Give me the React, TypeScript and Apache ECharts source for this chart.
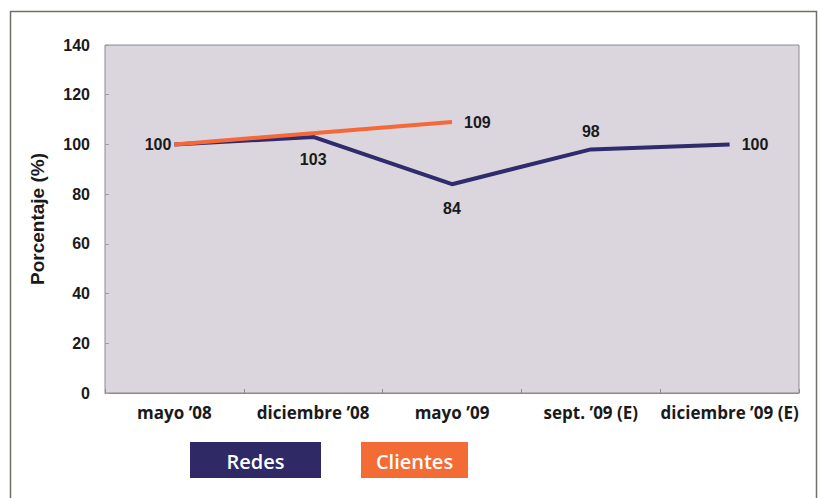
import React, { useEffect, useRef } from "react";
import * as echarts from "echarts";

const categories = ["mayo ’08", "diciembre ’08", "mayo ’09", "sept. ’09 (E)", "diciembre ’09 (E)"];
const redes = [100, 103, 84, 98, 100];
const clientes: (number | null)[] = [100, null, 109, null, null];
const yTicks = { min: 0, max: 140, interval: 20 };
const seriesNames = ["Redes", "Clientes"];
const axisTitle = "Porcentaje (%)";

const BLUE = "#302b6c";
const ORANGE = "#f4683a";

export default function App() {
  const ref = useRef<HTMLDivElement>(null);
  useEffect(() => {
    document.body.style.margin = "0";
    if (!ref.current) return;
    const chart = echarts.init(ref.current, null, { renderer: "svg" });
    const lbl = { fontFamily: "Liberation Sans, Arial, sans-serif", fontWeight: "bold" as const, fontSize: 16, color: "#1a1a1a" };
    const redesData = redes.map((v, i) => {
      const pos = ["left", "bottom", "bottom", "top", "right"][i];
      const dist = [3, 14, 16, 10, 12][i];
      return { value: v, label: { show: true, position: pos, distance: dist, ...lbl } };
    });
    const clientesData = clientes.map((v, i) => {
      if (v === null) return null;
      return { value: v, label: { show: i === 2, position: "right", distance: 12, ...lbl } };
    });
    chart.setOption({
      animation: false,
      backgroundColor: "#ffffff",
      grid: {
        left: 105,
        right: 19,
        top: 45,
        bottom: 105,
        show: true,
        backgroundColor: "#dbd5dd",
        borderColor: "#8d8a8e",
        borderWidth: 1,
      },
      xAxis: {
        type: "category",
        data: categories,
        boundaryGap: true,
        axisLine: { show: true, lineStyle: { color: "#8d8a8e", width: 1 } },
        axisTick: { show: true, inside: true, length: 4, lineStyle: { color: "#8d8a8e" } },
        axisLabel: {
          margin: 11,
          fontFamily: "Open Sans, Noto Sans, sans-serif",
          fontWeight: "bold",
          fontSize: 17,
          color: "#1a1a1a",
          interval: 0,
        },
        splitLine: { show: false },
      },
      yAxis: {
        type: "value",
        min: yTicks.min,
        max: yTicks.max,
        interval: yTicks.interval,
        name: axisTitle,
        nameLocation: "middle",
        nameGap: 58,
        nameRotate: 90,
        nameTextStyle: {
          fontFamily: "Liberation Sans, Arial, sans-serif",
          fontWeight: "bold",
          fontSize: 19,
          color: "#1a1a1a",
        },
        axisLine: { show: false },
        axisTick: { show: true, inside: true, length: 4, lineStyle: { color: "#a09aa2" } },
        axisLabel: {
          margin: 15,
          fontFamily: "Liberation Sans, Arial, sans-serif",
          fontWeight: "bold",
          fontSize: 16,
          color: "#1a1a1a",
        },
        splitLine: { show: false },
      },
      series: [
        {
          name: seriesNames[0],
          type: "line",
          data: redesData,
          symbol: "circle",
          symbolSize: 0.1,
          showSymbol: true,
          lineStyle: { color: BLUE, width: 4 },
          itemStyle: { color: BLUE },
          z: 2,
        },
        {
          name: seriesNames[1],
          type: "line",
          data: clientesData,
          connectNulls: true,
          symbol: "circle",
          symbolSize: 0.1,
          showSymbol: true,
          lineStyle: { color: ORANGE, width: 4 },
          itemStyle: { color: ORANGE },
          z: 3,
        },
      ],
      graphic: [
        {
          type: "rect",
          shape: { x: 10.5, y: 11.5, width: 806, height: 500 },
          style: { fill: "none", stroke: "#6f6f66", lineWidth: 1.5 },
          silent: true,
        },
        {
          type: "group",
          left: 190,
          top: 442,
          children: [
            { type: "rect", shape: { x: 0, y: 0, width: 131, height: 36 }, style: { fill: "#2f2a66" } },
            {
              type: "text",
              x: 65.5,
              y: 19,
              style: {
                text: seriesNames[0],
                fill: "#ffffff",
                fontFamily: "Open Sans, Noto Sans, sans-serif",
                fontWeight: 600,
                fontSize: 20,
                align: "center",
                verticalAlign: "middle",
              },
            },
          ],
        },
        {
          type: "group",
          left: 361,
          top: 442,
          children: [
            { type: "rect", shape: { x: 0, y: 0, width: 107, height: 36 }, style: { fill: "#f36b35" } },
            {
              type: "text",
              x: 53.5,
              y: 19,
              style: {
                text: seriesNames[1],
                fill: "#ffffff",
                fontFamily: "Open Sans, Noto Sans, sans-serif",
                fontWeight: 600,
                fontSize: 20,
                align: "center",
                verticalAlign: "middle",
              },
            },
          ],
        },
      ],
    });
    return () => chart.dispose();
  }, []);
  return <div ref={ref} style={{ width: 818, height: 498 }} />;
}
